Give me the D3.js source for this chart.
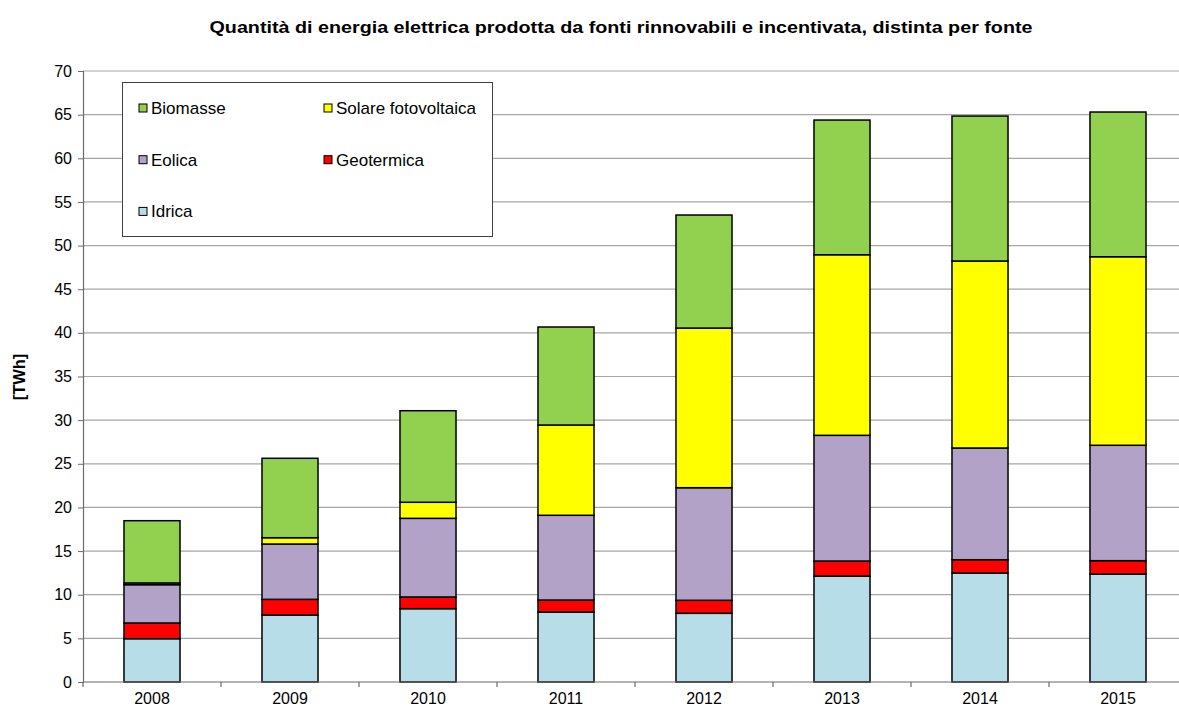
<!DOCTYPE html>
<html><head><meta charset="utf-8">
<script src="https://cdn.jsdelivr.net/npm/d3@7"></script>
<style>body{margin:0;background:#fff}svg{display:block;font-family:Arial,"Liberation Sans",sans-serif}</style>
</head><body>
<svg id="c" width="1179" height="711"></svg>
<script>
const years = ["2008","2009","2010","2011","2012","2013","2014","2015"];
const idrica     = [4.96, 7.68, 8.40, 8.02, 7.87, 12.14, 12.49, 12.37];
const geotermica = [1.80, 1.79, 1.34, 1.37, 1.49, 1.72, 1.52, 1.53];
const eolica     = [4.39, 6.34, 9.01, 9.71, 12.90, 14.40, 12.80, 13.22];
const solare     = [0.20, 0.72, 1.84, 10.34, 18.29, 20.69, 21.42, 21.60];
const biomasse   = [7.13, 9.10, 10.49, 11.23, 12.95, 15.43, 16.61, 16.58];
const yTicks = [0,5,10,15,20,25,30,35,40,45,50,55,60,65,70];
const seriesNames = ["Idrica","Geotermica","Eolica","Solare fotovoltaica","Biomasse"];
const seriesColors = ["#b7dde8","#ff0000","#b2a2c7","#ffff00","#92d050"];
const title = "Quantità di energia elettrica prodotta da fonti rinnovabili e incentivata, distinta per fonte";
const yLabel = "[TWh]";

const svg = d3.select("#c");
const L = 83, R = 1187, T = 71, B = 682;
const x = d3.scaleBand().domain(years).range([L, R]).paddingInner(0.594).paddingOuter(0.297);
const y = d3.scaleLinear().domain([0, 70]).range([B, T]);

const table = years.map((yr, i) => ({
  year: yr,
  "Idrica": idrica[i], "Geotermica": geotermica[i], "Eolica": eolica[i],
  "Solare fotovoltaica": solare[i], "Biomasse": biomasse[i]
}));
const stacked = d3.stack().keys(seriesNames)(table);

// gridlines
svg.append("g").selectAll("line").data(yTicks.filter(d => d > 0)).join("line")
  .attr("x1", L).attr("x2", 1179).attr("y1", d => y(d)).attr("y2", d => y(d))
  .attr("stroke", "#a6a6a6").attr("stroke-width", 1.2);

// bars
stacked.forEach((s, si) => {
  svg.append("g").selectAll("rect").data(s).join("rect")
    .attr("x", d => x(d.data.year)).attr("width", x.bandwidth())
    .attr("y", d => y(d[1])).attr("height", d => y(d[0]) - y(d[1]))
    .attr("fill", seriesColors[si]).attr("stroke", "#000").attr("stroke-width", 1.5);
});

// y axis
const yAxis = d3.axisLeft(y).tickValues(yTicks).tickSize(5).tickPadding(6);
const gy = svg.append("g").attr("transform", `translate(${L},0)`).call(yAxis);
gy.select(".domain").attr("stroke", "#6b6b6b").attr("stroke-width", 1.2);
gy.selectAll(".tick line").attr("stroke", "#6b6b6b");
gy.selectAll("text").attr("font-size", 16).attr("fill", "#000").attr("font-family", "Arial, 'Liberation Sans', sans-serif");

// x axis
const gx = svg.append("g").attr("transform", `translate(0,${B})`).call(d3.axisBottom(x).tickSize(0).tickPadding(11));
gx.select(".domain").remove();
gx.selectAll("text").attr("font-size", 16).attr("fill", "#000").attr("font-family", "Arial, 'Liberation Sans', sans-serif");
svg.append("line").attr("x1", L).attr("x2", 1179).attr("y1", B).attr("y2", B).attr("stroke", "#6b6b6b").attr("stroke-width", 1.2);
const step = x.step();
const bounds = years.map(yr => x(yr) - (step - x.bandwidth()) / 2).concat([x(years[years.length-1]) + x.bandwidth() + (step - x.bandwidth())/2]);
svg.append("g").selectAll("line").data(bounds.filter(b => b <= 1179)).join("line")
  .attr("x1", d => d).attr("x2", d => d).attr("y1", B).attr("y2", B + 5)
  .attr("stroke", "#6b6b6b").attr("stroke-width", 1.2);

// title
svg.append("text").attr("x", 621).attr("y", 33).attr("text-anchor", "middle")
  .attr("font-size", 17).attr("font-weight", "bold")
  .attr("textLength", 823).attr("lengthAdjust", "spacingAndGlyphs").text(title);

// y label
svg.append("text").attr("transform", "translate(25,377) rotate(-90)").attr("text-anchor", "middle")
  .attr("font-size", 16.5).attr("font-weight", "bold").text(yLabel);

// legend
const lg = svg.append("g");
lg.append("rect").attr("x", 122.5).attr("y", 82.5).attr("width", 370).attr("height", 154)
  .attr("fill", "#fff").attr("stroke", "#404040").attr("stroke-width", 1);
const legendOrder = [
  {name: "Biomasse", col: 0, row: 0}, {name: "Solare fotovoltaica", col: 1, row: 0},
  {name: "Eolica", col: 0, row: 1}, {name: "Geotermica", col: 1, row: 1},
  {name: "Idrica", col: 0, row: 2}
];
legendOrder.forEach(e => {
  const cx = e.col === 0 ? 139 : 324;
  const cy = 108 + e.row * 51.7;
  lg.append("rect").attr("x", cx).attr("y", cy - 4).attr("width", 8).attr("height", 8)
    .attr("fill", seriesColors[seriesNames.indexOf(e.name)]).attr("stroke", "#000").attr("stroke-width", 1);
  lg.append("text").attr("x", cx + 12).attr("y", cy + 6).attr("font-size", 17).text(e.name);
});
</script>
</body></html>
